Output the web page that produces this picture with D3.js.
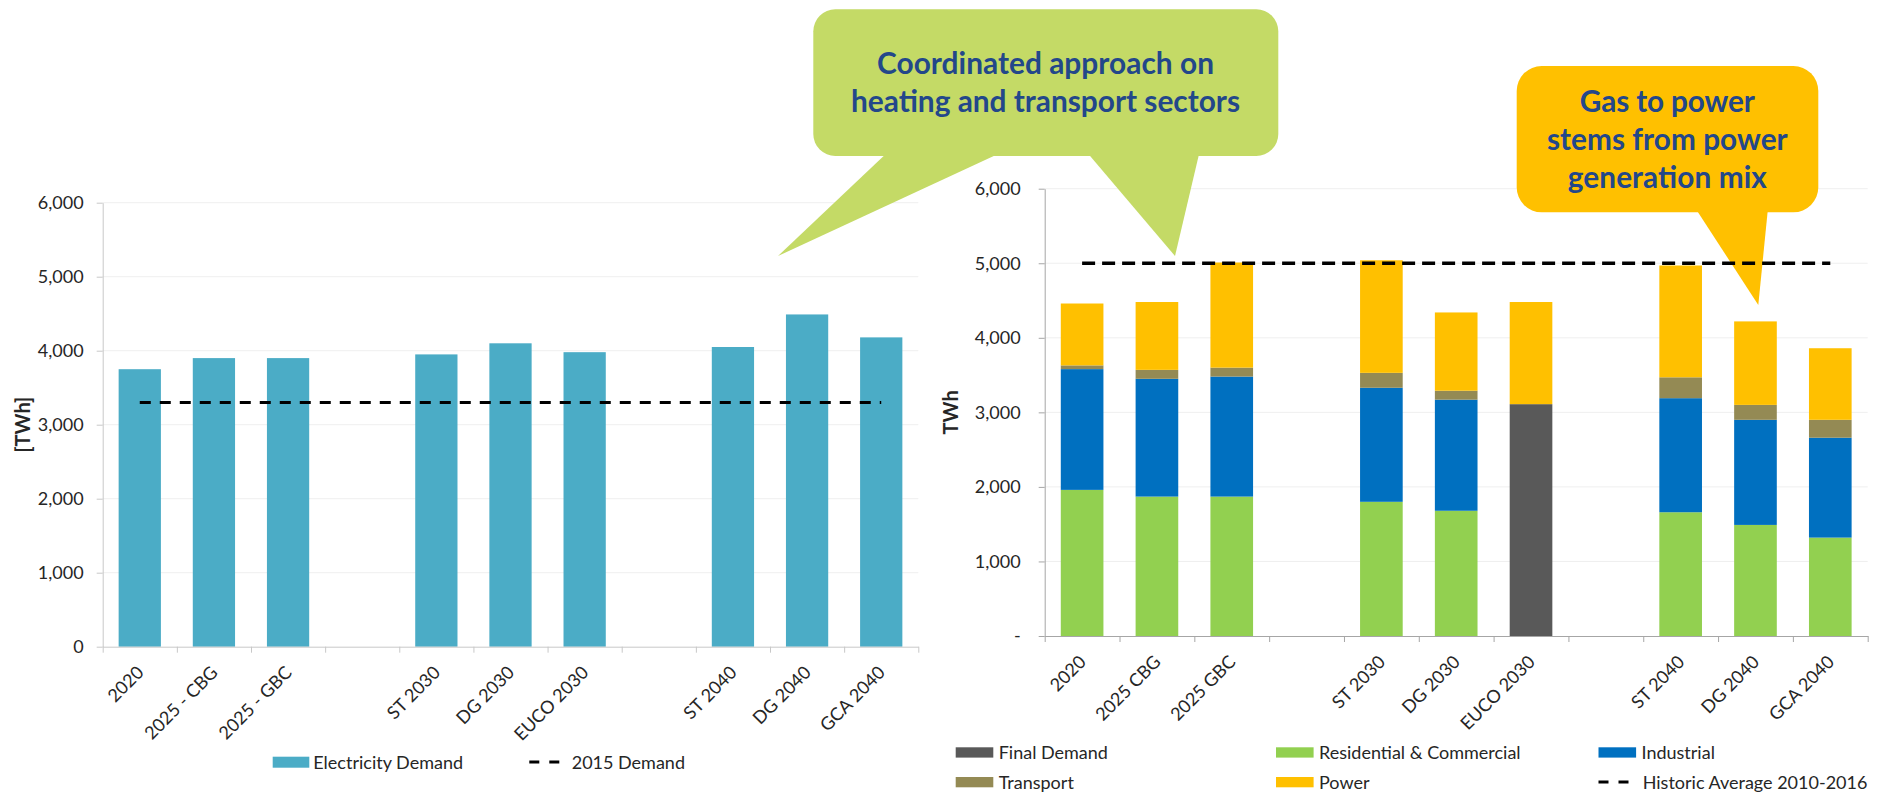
<!DOCTYPE html>
<html>
<head>
<meta charset="utf-8">
<script src="https://cdn.jsdelivr.net/npm/d3@7"></script>
<style>
  html, body { margin: 0; padding: 0; background: #ffffff; }
  svg { display: block; font-family: Lato, "Open Sans", "Noto Sans", sans-serif; }
</style>
</head>
<body>
<svg id="chart" width="1877" height="795"></svg>
<script>
// ---------------- DATA ----------------
const leftCategories = ["2020", "2025 - CBG", "2025 - GBC", "", "ST 2030", "DG 2030", "EUCO 2030", "", "ST 2040", "DG 2040", "GCA 2040"];
const electricityDemand = [3750, 3900, 3900, null, 3950, 4100, 3980, null, 4050, 4490, 4180];
const demand2015 = 3300;

const rightCategories = ["2020", "2025 CBG", "2025 GBC", "", "ST 2030", "DG 2030", "EUCO 2030", "", "ST 2040", "DG 2040", "GCA 2040"];
const finalDemand   = [0, 0, 0, null, 0, 0, 3110, null, 0, 0, 0];
const resCommercial = [1960, 1870, 1870, null, 1800, 1680, 0, null, 1660, 1490, 1320];
const industrial    = [1620, 1580, 1610, null, 1530, 1490, 0, null, 1530, 1410, 1340];
const transport     = [50, 120, 120, null, 200, 120, 0, null, 280, 200, 240];
const power         = [830, 910, 1410, null, 1510, 1050, 1370, null, 1500, 1120, 960];
const historicAverage = 5000;

const yTicks = [0, 1000, 2000, 3000, 4000, 5000, 6000];

const rightSeriesNames = ["Final Demand", "Residential & Commercial", "Industrial", "Transport", "Power"];
const rightSeriesColors = ["#595959", "#92D050", "#0070C0", "#948A54", "#FFC000"];

const callout1Lines = ["Coordinated approach on", "heating and transport sectors"];
const callout2Lines = ["Gas to power", "stems from power", "generation mix"];

// ---------------- DRAW ----------------
const svg = d3.select("#chart");
const textColor = "#262626";
const fmt = d3.format(",");
const FS = "18px";

function drawBoundaryTicks(g, x0, x1, y0, n, color) {
  const xb = d3.scaleLinear().domain([0, n]).range([x0, x1]);
  const ax = g.append("g").attr("transform", `translate(0,${y0})`)
    .call(d3.axisBottom(xb).tickValues(d3.range(n + 1)).tickFormat("").tickSize(6).tickSizeOuter(0));
  ax.select(".domain").attr("stroke", color);
  ax.selectAll(".tick line").attr("stroke", color);
}

function drawCategoryLabels(g, xScale, y0, cats) {
  const ax = g.append("g").attr("transform", `translate(0,${y0})`)
    .call(d3.axisBottom(xScale).tickSize(0).tickFormat(i => cats[i]));
  ax.select(".domain").remove();
  ax.selectAll(".tick text")
    .attr("y", 0).attr("dy", null)
    .attr("text-anchor", "end")
    .attr("transform", "translate(5,27) rotate(-45)")
    .attr("fill", textColor)
    .style("font-size", FS)
    .style("font-family", "Lato, 'Open Sans', sans-serif");
}

function drawYAxis(g, yScale, x0, x1, color, zeroLabel, pad) {
  g.append("g").selectAll("line").data(yTicks.filter(d => d > 0)).join("line")
    .attr("x1", x0).attr("x2", x1)
    .attr("y1", d => yScale(d)).attr("y2", d => yScale(d))
    .attr("stroke", "#EFEFEF").attr("stroke-width", 1);
  const ax = g.append("g").attr("transform", `translate(${x0},0)`)
    .call(d3.axisLeft(yScale).tickValues(yTicks).tickSize(6).tickSizeOuter(0).tickPadding(pad)
      .tickFormat(d => d === 0 ? zeroLabel : fmt(d)));
  ax.select(".domain").attr("stroke", color);
  ax.selectAll(".tick line").attr("stroke", color);
  ax.selectAll(".tick text").attr("fill", textColor)
    .style("font-size", FS).style("font-family", "Lato, 'Open Sans', sans-serif");
}

// ===== LEFT CHART =====
const L = { x0: 102.7, x1: 918.3, y0: 646.7, y1: 202.7 };
const gL = svg.append("g");
const xL = d3.scaleBand().domain(d3.range(leftCategories.length)).range([L.x0, L.x1]).padding(0);
const yL = d3.scaleLinear().domain([0, 6000]).range([L.y0, L.y1]);
drawYAxis(gL, yL, L.x0, L.x1, "#C8C8C8", "0", 13);

const barFrac = 0.57;
const bwL = xL.bandwidth() * barFrac;
gL.append("g").selectAll("rect")
  .data(electricityDemand.map((v, i) => ({ v, i })).filter(d => d.v != null))
  .join("rect")
  .attr("x", d => xL(d.i) + (xL.bandwidth() - bwL) / 2)
  .attr("width", bwL)
  .attr("y", d => yL(d.v))
  .attr("height", d => yL(0) - yL(d.v))
  .attr("fill", "#4BACC6");

drawBoundaryTicks(gL, L.x0, L.x1, L.y0, leftCategories.length, "#C8C8C8");
drawCategoryLabels(gL, xL, L.y0, leftCategories);

gL.append("line")
  .attr("x1", xL(0) + xL.bandwidth() / 2)
  .attr("x2", xL(leftCategories.length - 1) + xL.bandwidth() / 2)
  .attr("y1", yL(demand2015)).attr("y2", yL(demand2015))
  .attr("stroke", "#000").attr("stroke-width", 3).attr("stroke-dasharray", "11,9");

gL.append("text")
  .attr("transform", `translate(30,${(L.y0 + L.y1) / 2}) rotate(-90)`)
  .attr("text-anchor", "middle").attr("fill", textColor)
  .style("font-weight", "bold").style("font-size", "20px")
  .text("[TWh]");

// left legend
const lgL = gL.append("g");
lgL.append("rect").attr("x", 272.7).attr("y", 756.7).attr("width", 36.6).attr("height", 11).attr("fill", "#4BACC6");
lgL.append("text").attr("x", 313.3).attr("y", 768.5).attr("fill", textColor).style("font-size", FS).text("Electricity Demand");
lgL.append("line").attr("x1", 529.3).attr("x2", 560).attr("y1", 762).attr("y2", 762)
  .attr("stroke", "#000").attr("stroke-width", 3).attr("stroke-dasharray", "10,10");
lgL.append("text").attr("x", 571.7).attr("y", 768.5).attr("fill", textColor).style("font-size", FS).text("2015 Demand");

// ===== RIGHT CHART =====
const R = { x0: 1044.7, x1: 1867.7, y0: 636, y1: 188.7 };
const gR = svg.append("g");
const xR = d3.scaleBand().domain(d3.range(rightCategories.length)).range([R.x0, R.x1]).padding(0);
const yR = d3.scaleLinear().domain([0, 6000]).range([R.y0, R.y1]);
drawYAxis(gR, yR, R.x0, R.x1, "#A6A6A6", "-", 18);

const rightSeries = [finalDemand, resCommercial, industrial, transport, power];
const rows = rightCategories.map((c, i) => {
  const o = { i, empty: rightSeries[0][i] == null };
  rightSeries.forEach((s, k) => { o[k] = s[i] == null ? 0 : s[i]; });
  return o;
});
const stacked = d3.stack().keys(d3.range(rightSeries.length))(rows);
const bwR = xR.bandwidth() * barFrac;
gR.append("g").selectAll("g").data(stacked).join("g")
  .attr("fill", (d, k) => rightSeriesColors[k])
  .selectAll("rect")
  .data(d => d.filter(p => !p.data.empty && p[1] - p[0] > 0))
  .join("rect")
  .attr("x", p => xR(p.data.i) + (xR.bandwidth() - bwR) / 2)
  .attr("width", bwR)
  .attr("y", p => yR(p[1]))
  .attr("height", p => yR(p[0]) - yR(p[1]));

drawBoundaryTicks(gR, R.x0, R.x1, R.y0, rightCategories.length, "#A6A6A6");
drawCategoryLabels(gR, xR, R.y0, rightCategories);

gR.append("text")
  .attr("transform", `translate(958,${(R.y0 + R.y1) / 2}) rotate(-90)`)
  .attr("text-anchor", "middle").attr("fill", textColor)
  .style("font-weight", "bold").style("font-size", "20px")
  .text("TWh");

// right legend
const legendItems = [
  { name: rightSeriesNames[0], color: rightSeriesColors[0], x: 955.7, row: 0 },
  { name: rightSeriesNames[1], color: rightSeriesColors[1], x: 1276, row: 0 },
  { name: rightSeriesNames[2], color: rightSeriesColors[2], x: 1598.5, row: 0 },
  { name: rightSeriesNames[3], color: rightSeriesColors[3], x: 955.7, row: 1 },
  { name: rightSeriesNames[4], color: rightSeriesColors[4], x: 1276, row: 1 }
];
const rowY = [747.3, 777];
const lgR = gR.append("g");
legendItems.forEach(it => {
  lgR.append("rect").attr("x", it.x).attr("y", rowY[it.row]).attr("width", 37.6).attr("height", 10.3).attr("fill", it.color);
  lgR.append("text").attr("x", it.x + 43).attr("y", rowY[it.row] + 11.7).attr("fill", textColor)
    .style("font-size", FS).text(it.name);
});
lgR.append("line").attr("x1", 1598.5).attr("x2", 1629).attr("y1", 782).attr("y2", 782)
  .attr("stroke", "#000").attr("stroke-width", 3).attr("stroke-dasharray", "10,10");
lgR.append("text").attr("x", 1642.7).attr("y", 788.7).attr("fill", textColor)
  .style("font-size", FS).text("Historic Average 2010-2016");

// ===== CALLOUTS =====
const calloutText = "#23478A";
function fitLines(g, lines, cx, baselines, widths) {
  const texts = g.selectAll("text.cl").data(lines).join("text").attr("class", "cl")
    .attr("x", cx).attr("y", (d, i) => baselines[i])
    .attr("text-anchor", "middle").attr("fill", calloutText)
    .style("font-weight", "bold").style("font-size", "28px")
    .style("font-family", "Lato, 'Open Sans', sans-serif")
    .text(d => d);
  let ratio = 0;
  texts.each(function (d, i) { ratio += widths[i] / this.getComputedTextLength(); });
  ratio /= lines.length;
  texts.style("font-size", (28 * ratio) + "px")
    .attr("textLength", (d, i) => widths[i]).attr("lengthAdjust", "spacing");
}

// green callout
const c1 = svg.append("g");
c1.append("rect").attr("x", 813.3).attr("y", 9.3).attr("width", 465).attr("height", 146.7).attr("rx", 22).attr("fill", "#C4DA66");
c1.append("polygon").attr("points", "890,150 1006.7,150 778,256").attr("fill", "#C4DA66");
c1.append("polygon").attr("points", "1085,150 1200,150 1175,256").attr("fill", "#C4DA66");
fitLines(c1, callout1Lines, 1045.5, [73.5, 111.7], [337, 389]);

// yellow callout
const c2 = svg.append("g");
c2.append("rect").attr("x", 1516.7).attr("y", 66).attr("width", 301.6).attr("height", 146.3).attr("rx", 25).attr("fill", "#FFC000");
c2.append("polygon").attr("points", "1693.3,205 1768.3,205 1758.3,305").attr("fill", "#FFC000");
fitLines(c2, callout2Lines, 1667.3, [111.7, 150, 187.5], [175, 240.7, 199]);

// historic average dashed line drawn on top
gR.append("line")
  .attr("x1", xR(0) + xR.bandwidth() / 2)
  .attr("x2", xR(rightCategories.length - 1) + xR.bandwidth() / 2)
  .attr("y1", yR(historicAverage)).attr("y2", yR(historicAverage))
  .attr("stroke", "#000").attr("stroke-width", 3.5).attr("stroke-dasharray", "13,7");
svg.node().appendChild(gR.node().lastChild);
</script>
</body>
</html>
